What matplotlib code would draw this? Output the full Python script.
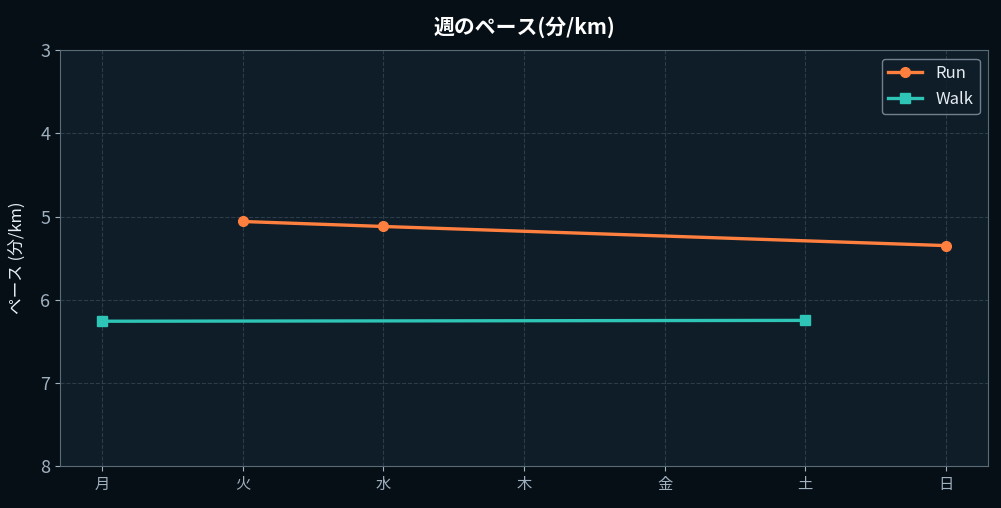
import matplotlib
matplotlib.use('Agg')
import matplotlib.pyplot as plt

plt.rcParams['font.family'] = ['Noto Sans CJK JP', 'DejaVu Sans']

days = ['月', '火', '水', '木', '金', '土', '日']
run_days = [1, 2, 6]
run_pace = [5.06, 5.12, 5.35]
walk_days = [0, 5]
walk_pace = [6.26, 6.25]

fig = plt.figure(figsize=(10.01, 5.08), dpi=100, facecolor='#070f16')
ax = fig.add_axes([0.06, 0.083, 0.927, 0.818])
ax.set_facecolor('#0f1d29')

ax.plot(run_days, run_pace, color='#ff7f3f', lw=2.4, marker='o', ms=7, label='Run')
ax.plot(walk_days, walk_pace, color='#2ec4b6', lw=2.4, marker='s', ms=7, label='Walk')

ax.set_xlim(-0.3, 6.3)
ax.set_ylim(8, 3)
ax.set_yticks([3, 4, 5, 6, 7, 8])
ax.set_xticks(range(7))
ax.set_xticklabels(days)
ax.grid(True, color='#3a4a58', ls='--', lw=0.8, alpha=0.7)
for s in ax.spines.values():
    s.set_color('#5a6b78')
ax.tick_params(colors='#9fb0bf', labelsize=13)
ax.tick_params(axis='x', labelsize=11)
ax.set_ylabel('ペース (分/km)', color='#e6edf3', fontsize=12, labelpad=10)
ax.set_title('週のペース(分/km)', color='white', fontsize=15, fontweight='bold', pad=12)

leg = ax.legend(loc='upper right', facecolor='#0f1d29', edgecolor='#8a9aa8', fontsize=12)
for t in leg.get_texts():
    t.set_color('#e6edf3')

fig.savefig('out.png', facecolor=fig.get_facecolor())
